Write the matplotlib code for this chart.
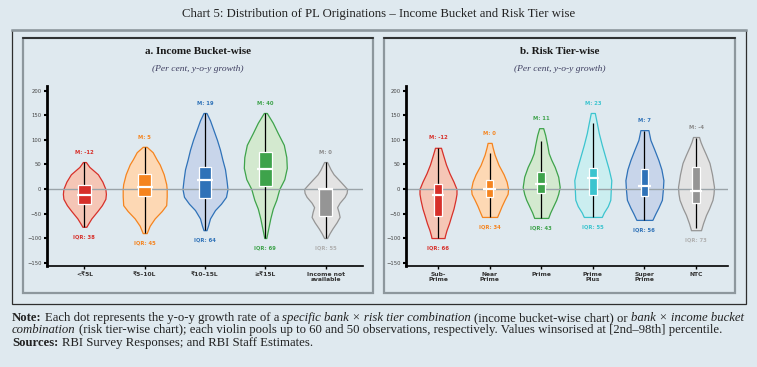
import matplotlib
matplotlib.use("Agg")
import matplotlib.pyplot as plt
from matplotlib.patches import Rectangle
from matplotlib.lines import Line2D

# ---------------- data ----------------
inc_labels = ["<₹5L", "₹5–10L", "₹10–15L", "≥₹15L", "Income not\navailable"]
inc_median = [-12, 5, 19, 40, 0]
inc_iqr = [38, 45, 64, 69, 55]
inc_q1 = [-30, -15, -19, 7, -55]
inc_q3 = [8, 30, 45, 76, 0]
inc_wlo = [-77, -90, -84, -100, -100]
inc_whi = [55, 86, 155, 155, 55]
# violin outline: y levels and full width (px)
inc_prof_y = [
    [55, 45, 30, 15, 0, -10, -20, -33, -45, -60, -70, -77],
    [86, 75, 60, 50, 30, 10, 0, -15, -33, -45, -60, -75, -90],
    [155, 140, 120, 100, 80, 59, 40, 18, 0, -16, -30, -43, -60, -75, -84],
    [155, 135, 114, 90, 65, 43, 20, 0, -22, -40, -60, -80, -100],
    [55, 40, 30, 18, 8, 0, -8, -16, -28, -37, -47, -57, -68, -80, -90, -100],
]
inc_prof_w = [
    [3, 10, 27, 36, 42, 43, 42, 35, 26, 14, 8, 4],
    [4, 16, 24, 30, 38, 43, 44, 44, 43, 34, 20, 10, 4],
    [3, 10, 17, 24, 30, 35, 40, 43, 45, 42, 32, 20, 10, 6, 3],
    [3, 15, 25, 37, 42, 43, 38, 28, 22, 15, 10, 6, 2],
    [3, 10, 16, 27, 36, 43, 42, 38, 28, 23, 26, 28, 22, 14, 8, 3],
]

risk_labels = ["Sub-\nPrime", "Near\nPrime", "Prime", "Prime\nPlus", "Super\nPrime", "NTC"]
risk_median = [-12, 0, 11, 23, 7, -4]
risk_iqr = [66, 34, 43, 55, 56, 73]
risk_q1 = [-56, -16, -8, -12, -15, -28]
risk_q3 = [10, 18, 35, 43, 41, 45]
risk_wlo = [-100, -57, -59, -57, -63, -80]
risk_whi = [84, 73, 98, 134, 118, 104]
risk_prof_y = [
    [84, 70, 50, 32, 15, 0, -10, -22, -40, -53, -70, -84, -95, -100],
    [94, 85, 70, 49, 30, 15, 0, -10, -22, -35, -45, -57],
    [124, 110, 90, 73, 60, 45, 25, 4, -10, -22, -35, -48, -59],
    [155, 135, 114, 90, 65, 40, 18, 0, -22, -35, -48, -57],
    [120, 110, 100, 80, 59, 40, 18, 0, -22, -38, -50, -63],
    [106, 96, 86, 70, 53, 30, 4, -10, -22, -40, -53, -70, -84],
]
risk_prof_w = [
    [6, 10, 16, 23, 31, 37, 37, 35, 31, 27, 22, 17, 14, 13],
    [4, 6, 10, 18, 28, 34, 37, 36, 30, 24, 20, 15],
    [4, 8, 12, 15, 20, 27, 34, 37, 34, 30, 24, 18, 14],
    [4, 8, 12, 18, 25, 32, 37, 36, 35, 30, 22, 18],
    [8, 10, 12, 20, 28, 34, 38, 37, 35, 28, 22, 16],
    [6, 9, 13, 20, 27, 32, 36, 35, 33, 26, 20, 14, 10],
]

RED, ORANGE, BLUE, GREEN, GREY, CYAN = "#d7302a", "#f5841f", "#2f72b8", "#3ea34b", "#959595", "#3cc4cf"
FILL = {RED: "#f5c6b6", ORANGE: "#fdd8b4", BLUE: "#c8d5ea", GREEN: "#d3e9cf",
        GREY: "#e3e3e3", CYAN: "#cbeef0"}
inc_colors = [RED, ORANGE, BLUE, GREEN, GREY]
risk_colors = [RED, ORANGE, GREEN, CYAN, BLUE, GREY]

BG = "#dfe9ef"
W, H = 757, 367

fig = plt.figure(figsize=(W / 100, H / 100), dpi=100)
fig.patch.set_facecolor(BG)


def fx(px):
    return px / W


def fy(py):
    return 1 - py / H


def draw_panel(ax, labels, med, iqr, q1, q3, wlo, whi, py_list, pw_list, colors, box_w, med_w):
    n = len(labels)
    pos = list(range(n))
    ax.set_xlim(-0.62, n - 1 + 0.62)
    ax.set_ylim(-157, 210)
    ax.set_facecolor(BG)
    ppu = ax.get_position().width * W / (n - 1 + 1.24)  # px per x unit
    stats = []
    widths = []
    for ys, ws in zip(py_list, pw_list):
        stats.append(dict(coords=ys, vals=ws, mean=0, median=0, min=min(ys), max=max(ys)))
        widths.append(max(ws) / ppu)
    parts = ax.violin(stats, positions=pos, widths=widths,
                      showmeans=False, showextrema=False, showmedians=False)
    for body, c in zip(parts["bodies"], colors):
        body.set_alpha(None)
        body.set_facecolor(FILL[c])
        body.set_edgecolor(c)
        body.set_linewidth(0.9)
        body.set_zorder(1)
    ax.axhline(0, color="#9aa3a8", lw=1.0, zorder=2)
    ax.vlines(pos, wlo, whi, color="black", lw=0.9, zorder=3)
    heights = [b - a for a, b in zip(q1, q3)]
    ax.bar(pos, heights, bottom=q1, width=box_w, color=colors,
           edgecolor="white", linewidth=0.9, zorder=4)
    for x, m in zip(pos, med):
        ax.hlines(m, x - med_w / 2, x + med_w / 2, color="white", lw=1.6, zorder=5)
    for x, m, top, c in zip(pos, med, whi, colors):
        top = max(top, max(py_list[x]))
        ax.text(x, top + 20, f"M: {m}", ha="center", va="center", fontsize=3.8,
                fontweight="bold", color=c if c != GREY else "#8a8a8a")
    for x, q, lo, c in zip(pos, iqr, wlo, colors):
        lo = min(lo, min(py_list[x]))
        ax.text(x, lo - 21, f"IQR: {q}", ha="center", va="center", fontsize=3.8,
                fontweight="bold", color=c if c != GREY else "#b0b0b0")
    for s in ["top", "right"]:
        ax.spines[s].set_visible(False)
    ax.spines["left"].set_linewidth(2.0)
    ax.spines["bottom"].set_linewidth(1.2)
    ax.set_yticks([-150, -100, -50, 0, 50, 100, 150, 200])
    ax.tick_params(axis="y", labelsize=3.8, length=2.5, width=1.5, pad=1.5, labelcolor="#444")
    ax.set_xticks(pos)
    ax.set_xticklabels(labels, fontsize=4.3, fontweight="bold", color="#333", linespacing=0.95)
    ax.tick_params(axis="x", length=2.5, width=1.0, pad=2)


ax1 = fig.add_axes([fx(47), fy(266), fx(363 - 47), (266 - 86) / H])
ax2 = fig.add_axes([fx(406), fy(266), fx(728 - 406), (266 - 86) / H])
draw_panel(ax1, inc_labels, inc_median, inc_iqr, inc_q1, inc_q3, inc_wlo, inc_whi,
           inc_prof_y, inc_prof_w, inc_colors, 0.21, 0.26)
draw_panel(ax2, risk_labels, risk_median, risk_iqr, risk_q1, risk_q3, risk_wlo, risk_whi,
           risk_prof_y, risk_prof_w, risk_colors, 0.15, 0.24)


# frames
def rect(x0, y0, x1, y1, ec, lw):
    fig.add_artist(Rectangle((fx(x0), fy(y1)), fx(x1 - x0), (y1 - y0) / H, fill=False,
                             ec=ec, lw=lw, transform=fig.transFigure))


def hline(x0, x1, y, c, lw):
    fig.add_artist(Line2D([fx(x0), fx(x1)], [fy(y), fy(y)], color=c, lw=lw,
                          transform=fig.transFigure))


rect(12, 30, 746, 304, "#2e2e2e", 0.9)
hline(12, 746, 30, "#8d979d", 1.8)
for x0, x1 in [(23, 373), (384, 735)]:
    rect(x0, 38, x1, 293, "#8d979d", 1.6)
    hline(x0, x1, 38, "#1e1e1e", 1.2)

serif = "Liberation Serif"
fig.text(0.5, fy(14), "Chart 5: Distribution of PL Originations – Income Bucket and Risk Tier wise",
         ha="center", va="center", fontsize=9.2, family=serif, color="#222")
for cx, t in [(198, "a. Income Bucket-wise"), (560, "b. Risk Tier-wise")]:
    fig.text(fx(cx), fy(52), t, ha="center", va="center", fontsize=8, family=serif,
             fontweight="bold", color="#1a1a1a")
    fig.text(fx(cx), fy(69), "(Per cent, y-o-y growth)", ha="center", va="center",
             fontsize=6.8, family=serif, style="italic", color="#3e3e60")

# note lines with mixed styles
renderer = fig.canvas.get_renderer()
reg, it, bd = {}, {"style": "italic"}, {"fontweight": "bold"}
note1 = [("Note:", bd), (" ", reg), ("Each dot represents the y-o-y growth rate of a", reg), (" ", reg),
         ("specific bank × risk tier combination", it), (" ", reg),
         ("(income bucket-wise chart) or", reg), (" ", reg), ("bank × income bucket", it)]
note2 = [("combination", it), (" ", reg),
         ("(risk tier-wise chart); each violin pools up to 60 and 50 observations, respectively. "
          "Values winsorised at [2nd–98th] percentile.", reg)]
note3 = [("Sources:", bd), (" ", reg), ("RBI Survey Responses; and RBI Staff Estimates.", reg)]


def text_w(s, size, **kw):
    t = fig.text(0, 0, s, fontsize=size, family=serif, **kw)
    w = t.get_window_extent(renderer).width
    t.remove()
    return w


def line_w(parts, size):
    sp = text_w("x x", size) - text_w("xx", size)
    return sum(sp if s == " " else text_w(s, size, **kw) for s, kw in parts)


NOTE_SIZE = 7.4 * (746 - 12) / line_w(note1, 7.4)


def rich_line(py, parts):
    sp = text_w("x x", NOTE_SIZE) - text_w("xx", NOTE_SIZE)
    x = 12.0
    for s, kw in parts:
        if s == " ":
            x += sp
            continue
        t = fig.text(fx(x), fy(py), s, fontsize=NOTE_SIZE, family=serif, va="center",
                     color="#222", **kw)
        x += t.get_window_extent(renderer).width


rich_line(318, note1)
rich_line(330, note2)
rich_line(343, note3)

fig.savefig("out.png", dpi=100, facecolor=BG)
